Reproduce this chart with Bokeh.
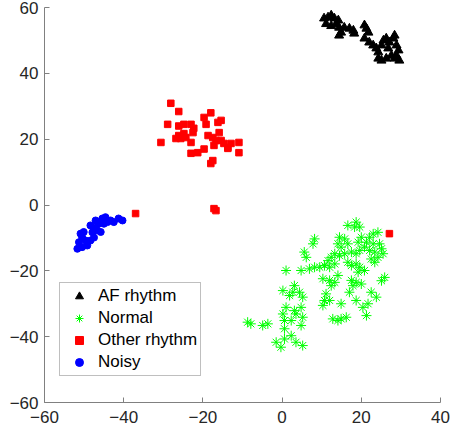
from bokeh.plotting import figure
from bokeh.models import FixedTicker, Legend, LegendItem, Range1d
from bokeh.embed import file_html
from bokeh.resources import INLINE

# AF rhythm (black triangles)
af_x = [10.6, 11.6, 12.4, 13.2, 14.2, 11.1, 12.4, 13.7, 14.4, 14.9, 14.4,
        15.7, 17.0, 18.0, 18.2, 20.8, 21.3, 21.8,
        20.8, 22.0, 23.0, 23.8, 24.3, 25.1, 25.6, 26.3, 27.1, 28.1, 28.4,
        28.9, 29.4, 27.6, 26.3, 25.1, 24.3, 26.8, 28.4, 29.6, 28.9]
af_y = [56.7, 57.0, 57.6, 56.7, 56.1, 55.0, 54.4, 55.0, 53.9, 52.4, 51.5,
        53.9, 53.6, 53.0, 52.1, 54.6, 53.6, 52.4,
        50.6, 49.4, 48.5, 47.6, 46.4, 48.5, 50.0, 50.6, 49.4, 50.6, 51.5,
        48.5, 47.0, 45.4, 44.5, 43.9, 44.5, 47.6, 44.5, 43.9, 45.4]

# Normal (green asterisks)
nor_x = [16.6, 18.7, 19.6, 18.3, 24.2, 23.0, 22.1, 20.0, 19.2, 21.3, 23.0, 24.6,
         25.1, 25.5, 23.4, 22.1, 20.8, 19.6, 18.7, 17.5, 16.6, 15.8, 14.5, 14.1,
         14.9, 13.3, 12.4, 11.6, 13.3, 14.5, 15.8, 16.6, 17.5, 18.7, 19.6, 20.8,
         19.2, 22.5, 23.4, 24.2, 8.2, 7.8, 5.6, 6.1, 1.0, 4.8, 6.9, 8.2, 9.5,
         10.7, 12.0, 10.3, 12.0, 13.3, 14.1, 12.4, 17.5, 18.7, 17.9, 17.0, 20.0,
         25.9, 25.1, 0.2, 3.1, 2.7, 4.4, 5.2, 1.9, 1.0, 3.1, 4.8, 3.5, 0.2, 0.6,
         2.3, 5.2, 4.8, 0.6, 2.3, 0.6, -1.5, -0.3, 3.5, 5.2, 11.1, 10.7, 12.0,
         10.3, 14.9, 12.8, 14.1, 14.9, 16.2, 18.7, 21.7, 22.5, 23.8, 20.4, 21.3,
         -7.9, -4.9, -3.6, -8.7]
nor_y = [-6.2, -5.2, -6.7, -6.7, -8.3, -8.8, -9.8, -9.8, -11.3, -11.3, -11.8, -11.8,
         -13.3, -14.8, -14.3, -13.8, -12.8, -13.8, -14.8, -14.3, -11.8, -10.3, -9.8, -11.8,
         -12.8, -14.8, -15.9, -16.9, -17.9, -15.4, -14.8, -17.4, -18.4, -17.9, -18.9, -19.9,
         -20.4, -16.4, -17.4, -15.9, -10.3, -11.8, -14.3, -15.9, -19.9, -19.9, -19.4, -18.9, -18.9,
         -18.4, -18.9, -22.4, -22.9, -23.5, -21.4, -24.5, -22.9, -23.5, -24.5, -26.5, -24.0,
         -22.0, -23.0, -26.0, -24.5, -26.5, -26.5, -28.0, -27.5, -31.1, -32.1, -31.1, -33.1, -33.1, -35.1,
         -35.1, -34.1, -36.6, -37.6, -39.7, -40.7, -41.7, -43.2, -41.7, -42.7, -27.0, -29.0, -29.0,
         -30.5, -30.0, -34.6, -35.1, -34.6, -34.1, -29.0, -30.0, -26.5, -28.0, -31.1, -33.6,
         -36.1, -36.6, -36.1, -35.6]

# Other rhythm (red squares)
oth_x = [-28.1, -26.1, -28.9, -26.1, -24.8, -23.0, -22.3, -22.5, -24.8, -26.1, -26.8,
         -25.6, -24.3, -23.0, -30.6, -19.7, -19.2, -18.0, -16.2, -15.4, -15.9, -18.7,
         -17.5, -16.7, -17.2, -15.4, -14.7, -13.7, -12.9, -10.9, -10.9, -13.7, -19.7,
         -21.3, -23.0, -17.5, -18.0, -17.2, -16.7, -37.0, 27.1]
oth_y = [30.9, 28.4, 24.5, 24.0, 24.5, 24.5, 23.3, 22.0, 21.7, 21.1, 20.2,
         20.2, 20.5, 19.0, 19.0, 26.6, 24.5, 28.0, 25.1, 25.7, 22.0, 21.1,
         20.5, 19.6, 18.1, 19.6, 18.7, 17.5, 18.7, 19.0, 15.9, 17.2, 17.0,
         15.9, 15.7, 13.5, 12.6, -1.1, -1.7, -2.6, -8.7]

# Noisy (blue circles)
noi_x = [-51.7, -51.3, -50.9, -50.5, -49.6, -49.2, -48.4, -47.9, -47.5, -47.1, -46.7,
         -46.3, -45.4, -45.0, -44.6, -44.1, -43.3, -42.5, -41.3, -40.3, -50.1, -48.4,
         -45.8, -47.5, -50.5]
noi_y = [-13.3, -11.3, -8.7, -9.8, -10.8, -12.3, -10.8, -8.3, -6.8, -4.7, -7.7,
         -5.7, -4.1, -5.7, -3.7, -5.2, -4.7, -5.2, -4.1, -4.7, -8.2, -6.2,
         -8.2, -9.9, -12.8]

labels = ["AF rhythm", "Normal", "Other rhythm", "Noisy"]
x_ticks = [-60, -40, -20, 0, 20, 40]
y_ticks = [-60, -40, -20, 0, 20, 40, 60]

p = figure(width=450, height=435, output_backend="svg", toolbar_location=None,
           x_range=Range1d(-60, 40), y_range=Range1d(-60, 60),
           min_border_left=44, min_border_right=10, min_border_top=7, min_border_bottom=33)
p.outline_line_color = None
p.grid.visible = False
p.background_fill_color = "white"
p.border_fill_color = "white"

for ax, ticks, standoff in ((p.xaxis[0], x_ticks, 8), (p.yaxis[0], y_ticks, 6)):
    ax.ticker = FixedTicker(ticks=ticks)
    ax.major_tick_in = 5
    ax.major_tick_out = 0
    ax.minor_tick_in = 0
    ax.minor_tick_out = 0
    ax.axis_line_color = "#808080"
    ax.major_tick_line_color = "#808080"
    ax.major_label_text_font = "Liberation Sans"
    ax.major_label_text_font_size = "17px"
    ax.major_label_text_color = "#262626"
    ax.major_label_standoff = standoff

r_af = p.scatter(af_x, af_y, marker="triangle", size=9, fill_color="black", line_color="black")
r_nor = p.scatter(nor_x, nor_y, marker="asterisk", size=10, line_color="#00ff00", line_width=1)
r_oth = p.scatter(oth_x, oth_y, marker="square", size=6.5, fill_color="#ff0000", line_color="#ff0000")
r_noi = p.scatter(noi_x, noi_y, marker="circle", size=7, fill_color="#0000ff", line_color="#0000ff")

legend = Legend(items=[LegendItem(label=labels[0], renderers=[r_af]),
                       LegendItem(label=labels[1], renderers=[r_nor]),
                       LegendItem(label=labels[2], renderers=[r_oth]),
                       LegendItem(label=labels[3], renderers=[r_noi])],
                location=(15, 26))
legend.label_text_font = "Liberation Sans"
legend.label_text_font_size = "17px"
legend.label_text_color = "black"
legend.border_line_color = "#808080"
legend.border_line_width = 1
legend.padding = 3
legend.margin = 0
legend.spacing = 2
legend.glyph_width = 32
legend.glyph_height = 20
legend.label_height = 20
legend.label_standoff = 3
legend.background_fill_alpha = 1
p.add_layout(legend, "center")

open("out.html", "w").write(file_html(p, INLINE))
